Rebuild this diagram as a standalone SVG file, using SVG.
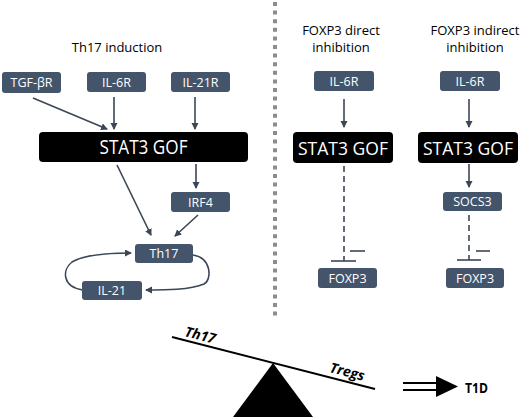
<svg xmlns="http://www.w3.org/2000/svg" width="520" height="417" viewBox="0 0 520 417">
<style>
.box{fill:#44546a;}
.big{fill:#000;}
.bt{fill:#fff;font-family:"Open Sans","Noto Sans",sans-serif;font-size:12.5px;text-anchor:middle;}
.st{fill:#fff;font-family:"Open Sans","Noto Sans",sans-serif;text-anchor:middle;}
.ttl{fill:#000;font-family:"Open Sans","Noto Sans",sans-serif;font-size:13px;text-anchor:middle;}
.c{stroke:#3b4656;stroke-width:1.6;fill:none;}
.d{stroke:#3b4656;stroke-width:1.6;fill:none;stroke-dasharray:6,4;}
.sw{font-family:"Open Sans","Noto Sans",sans-serif;font-size:14px;font-weight:bold;font-style:italic;fill:#000;}
</style>
<defs>
<marker id="ah" markerWidth="8" markerHeight="8" refX="6" refY="3.5" orient="auto" markerUnits="userSpaceOnUse">
<path d="M0,0 L7,3.5 L0,7 z" fill="#3b4656"/>
</marker>
</defs>
<line x1="275" y1="2" x2="275" y2="317" stroke="#8c8c8c" stroke-width="4" stroke-dasharray="4,4.6"/>
<g id="titles">
<text class="ttl" x="117" y="52">Th17 induction</text>
<text class="ttl" x="341" y="35">FOXP3 direct</text>
<text class="ttl" x="341" y="52">inhibition</text>
<text class="ttl" x="475" y="35">FOXP3 indirect</text>
<text class="ttl" x="475" y="52">inhibition</text>
</g>
<g id="connectors">
<line class="c" x1="33" y1="98" x2="107" y2="129" marker-end="url(#ah)"/>
<line class="c" x1="114" y1="97" x2="114" y2="129" marker-end="url(#ah)"/>
<line class="c" x1="195" y1="97" x2="195" y2="129" marker-end="url(#ah)"/>
<line class="c" x1="196" y1="164" x2="196" y2="188" marker-end="url(#ah)"/>
<line class="c" x1="117" y1="165" x2="151" y2="235" marker-end="url(#ah)"/>
<line class="c" x1="198" y1="215" x2="175" y2="236" marker-end="url(#ah)"/>
<path class="c" d="M193,255 C212,258 212,280 204,284 C190,290 165,290 146,290" marker-end="url(#ah)"/>
<path class="c" d="M83,290 C62,287 62,270 72,262 C85,254 110,253 131,253" marker-end="url(#ah)"/>
<line class="c" x1="344" y1="99" x2="344" y2="127" marker-end="url(#ah)"/>
<line class="c" x1="469" y1="99" x2="469" y2="127" marker-end="url(#ah)"/>
<line class="c" x1="469" y1="164" x2="469" y2="187" marker-end="url(#ah)"/>
<line class="d" x1="344" y1="166" x2="344" y2="261"/>
<line class="c" x1="331" y1="261" x2="356" y2="261"/>
<line class="c" x1="350" y1="251" x2="365" y2="251"/>
<line class="d" x1="469" y1="215" x2="469" y2="260"/>
<line class="c" x1="457" y1="260" x2="481" y2="260"/>
<line class="c" x1="476" y1="251" x2="490" y2="251"/>
</g>
<g id="n-tgfbr"><rect class="box" x="2" y="72" width="59" height="21" rx="3"/><text class="bt" x="31.5" y="87">TGF-βR</text></g>
<g id="n-il6r-a"><rect class="box" x="87" y="72" width="59" height="20" rx="3"/><text class="bt" x="116.5" y="86.5">IL-6R</text></g>
<g id="n-il21r"><rect class="box" x="171" y="72" width="59" height="20" rx="3"/><text class="bt" x="200.5" y="86.5">IL-21R</text></g>
<g id="n-stat3-a"><rect class="big" x="39" y="132" width="209" height="30" rx="4"/><text class="st" x="143.5" y="154" font-size="20" textLength="88" lengthAdjust="spacingAndGlyphs">STAT3 GOF</text></g>
<g id="n-irf4"><rect class="box" x="171" y="192" width="59" height="20" rx="3"/><text class="bt" x="200.5" y="206.5">IRF4</text></g>
<g id="n-th17"><rect class="box" x="135" y="244" width="58" height="19" rx="3"/><text class="bt" x="164" y="258">Th17</text></g>
<g id="n-il21"><rect class="box" x="82" y="281" width="60" height="19" rx="3"/><text class="bt" x="112" y="295">IL-21</text></g>
<g id="n-il6r-b"><rect class="box" x="314" y="71" width="60" height="20" rx="3"/><text class="bt" x="344" y="85.5">IL-6R</text></g>
<g id="n-stat3-b"><rect class="big" x="293" y="132" width="100" height="31" rx="4"/><text class="st" x="343" y="155" font-size="18" textLength="90" lengthAdjust="spacingAndGlyphs">STAT3 GOF</text></g>
<g id="n-foxp3-b"><rect class="box" x="318" y="268" width="59" height="20" rx="3"/><text class="bt" x="347.5" y="282.5">FOXP3</text></g>
<g id="n-il6r-c"><rect class="box" x="440" y="71" width="60" height="20" rx="3"/><text class="bt" x="470" y="85.5">IL-6R</text></g>
<g id="n-stat3-c"><rect class="big" x="418" y="132" width="100" height="31" rx="4"/><text class="st" x="468" y="155" font-size="18" textLength="90" lengthAdjust="spacingAndGlyphs">STAT3 GOF</text></g>
<g id="n-socs3"><rect class="box" x="443" y="192" width="59" height="19" rx="3"/><text class="bt" x="472.5" y="206">SOCS3</text></g>
<g id="n-foxp3-c"><rect class="box" x="446" y="268" width="58" height="20" rx="3"/><text class="bt" x="475" y="282.5">FOXP3</text></g>
<g id="seesaw">
<line x1="172" y1="337" x2="375" y2="389" stroke="#000" stroke-width="2"/>
<polygon points="273,363 233,417 313,417" fill="#000"/>
<text class="sw" x="184" y="336" transform="rotate(14.4 184 336)">Th17</text>
<text class="sw" x="329" y="372" transform="rotate(14.4 329 372)">Tregs</text>
</g>
<g id="t1d">
<line x1="403" y1="383" x2="440" y2="383" stroke="#000" stroke-width="2"/>
<line x1="403" y1="390" x2="440" y2="390" stroke="#000" stroke-width="2"/>
<polygon points="436,376 458,386.5 436,397" fill="#000"/>
<text x="465" y="393" font-family="'Open Sans','Noto Sans',sans-serif" font-size="15" font-weight="bold" textLength="23" lengthAdjust="spacingAndGlyphs">T1D</text>
</g>
</svg>
